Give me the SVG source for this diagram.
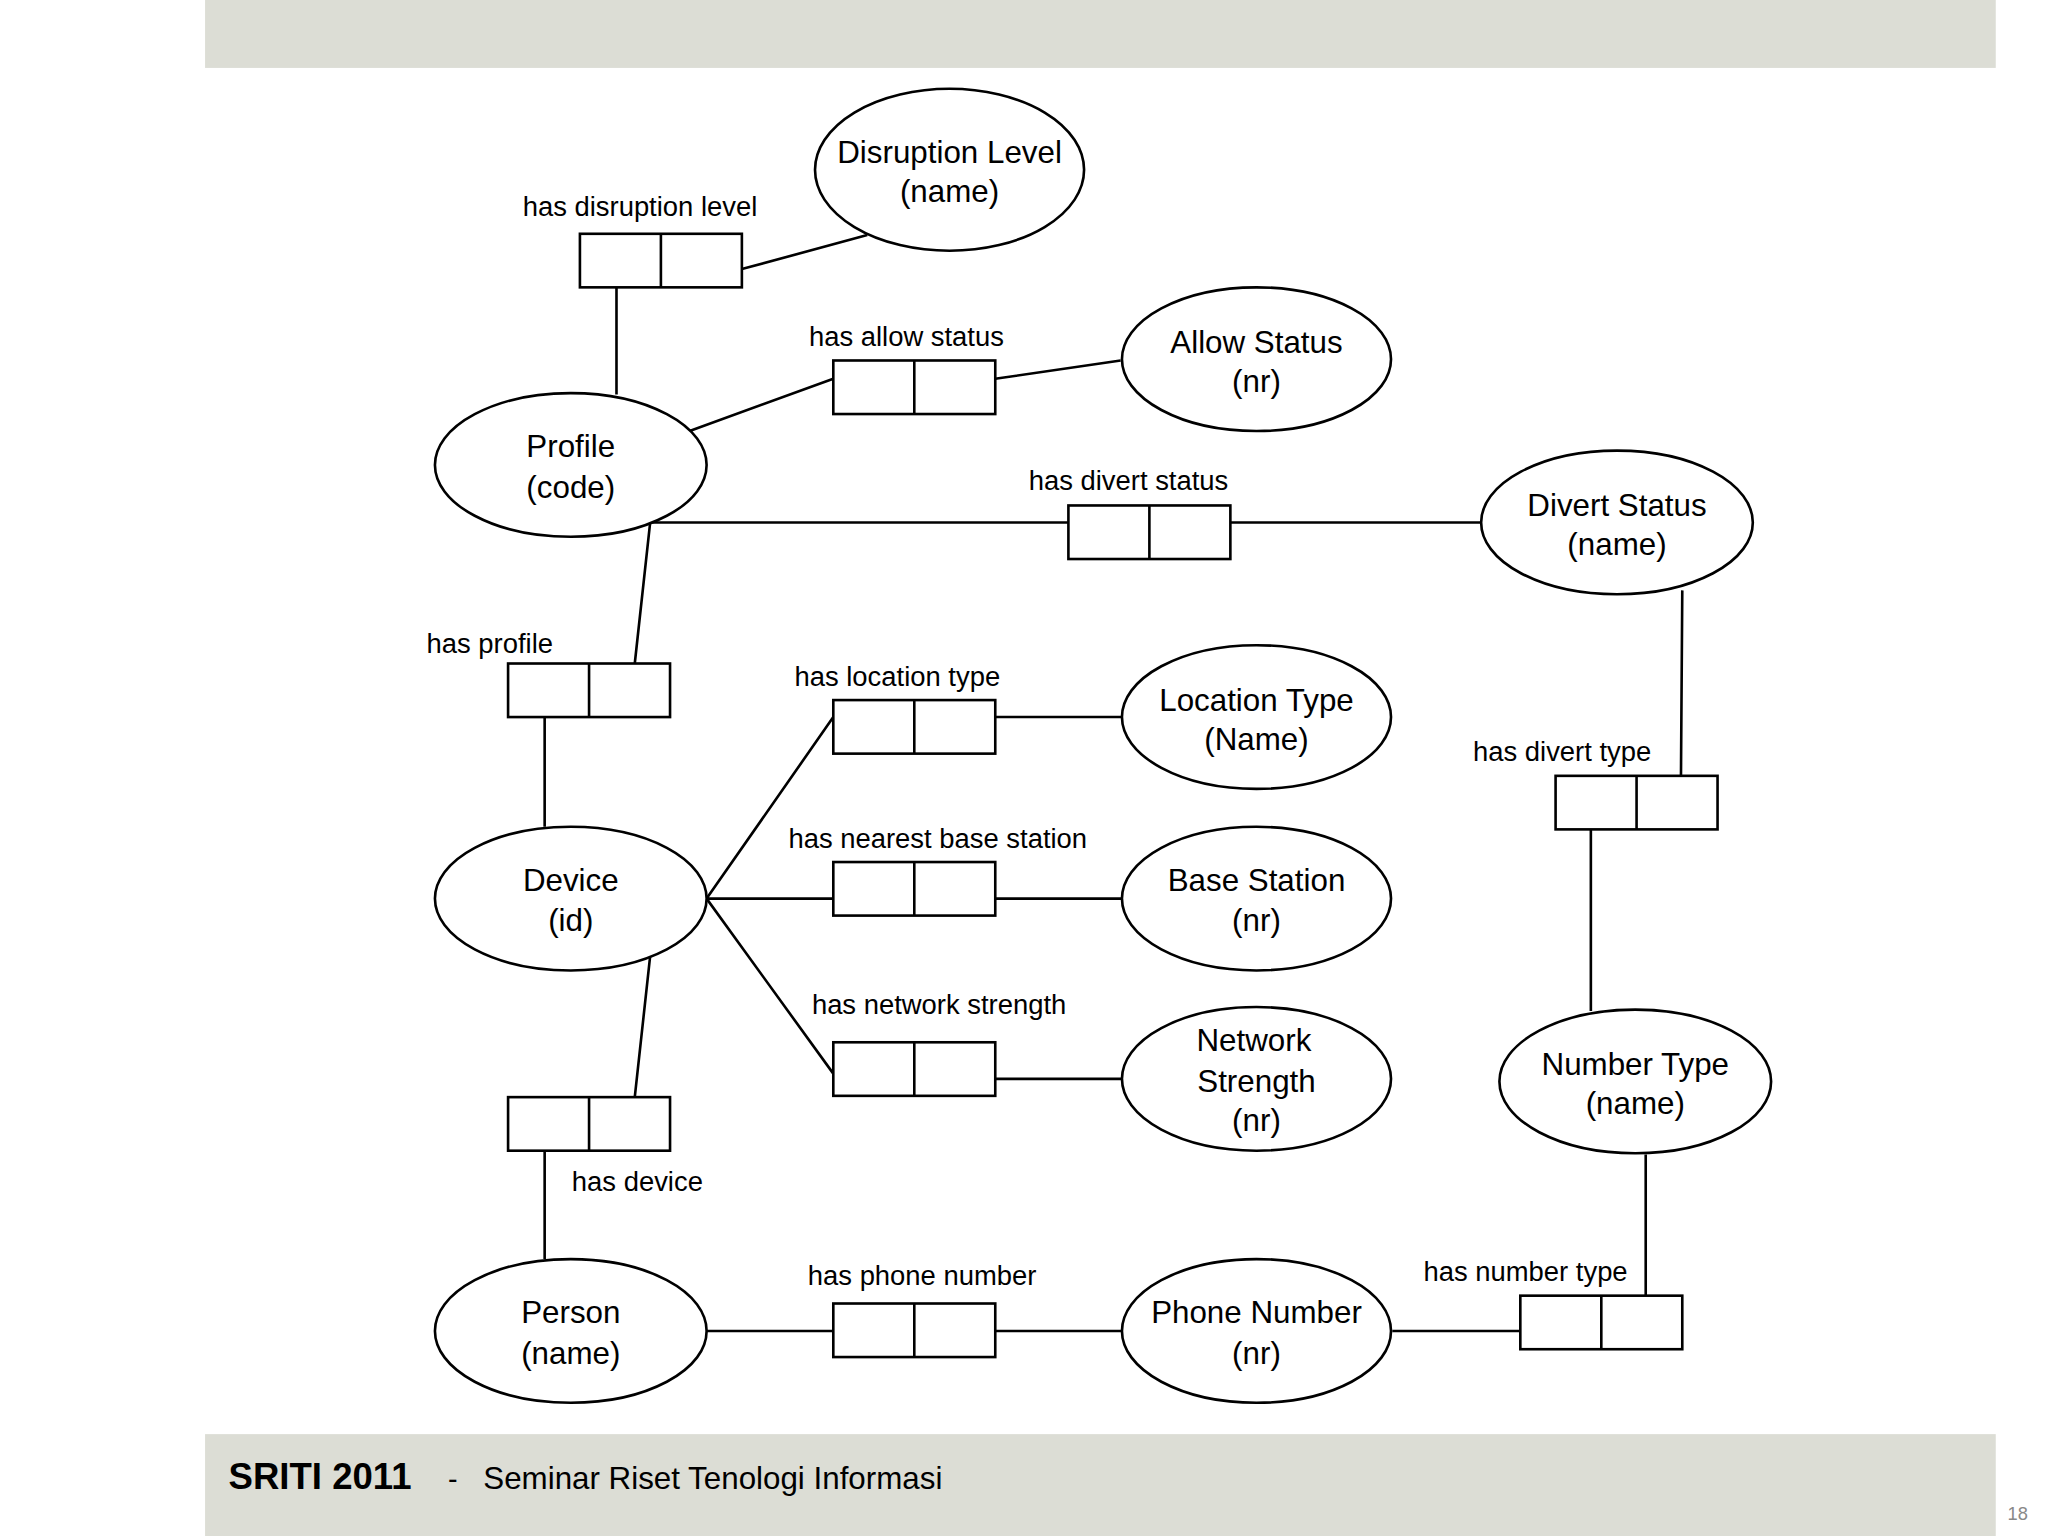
<svg xmlns="http://www.w3.org/2000/svg" width="2048" height="1536" viewBox="0 0 2048 1536">
<style>
.e{fill:#fff;stroke:#000;stroke-width:2}
.b{fill:#fff;stroke:#000;stroke-width:2}
.l{stroke:#000;stroke-width:2;fill:none}
text{font-family:"Liberation Sans",Arial,sans-serif;fill:#000}
.n{font-size:24px;text-anchor:middle}
.r{font-size:21px;text-anchor:middle}
</style>
<rect width="2048" height="1536" fill="#fff"/>
<g transform="scale(1.30612)">
<rect x="157" y="0" width="1371" height="52" fill="#dcddd5"/>
<rect x="157" y="1098" width="1371" height="78" fill="#dcddd5"/>
<text x="175" y="1140" font-size="28" font-weight="bold">SRITI 2011</text>
<text x="343" y="1140" font-size="22">-</text>
<text x="370" y="1140" font-size="24">Seminar Riset Tenologi Informasi</text>
<text x="1537" y="1164" font-size="14" fill="#888" style="fill:#888">18</text>
<g id="connectors">
<path class="l" d="M568 206L664 180M472 220V302M528 330L638 290M762 290L858 276M498 400H818M942 400H1135M498 398L486 508M417 549V633M541 688L638 549M541 688H638M541 688L638 822M762 549H859M762 688H859M762 826H859M498 730L486 840M417 881V964M541 1019H638M762 1019H859M1066 1019H1164M1288 452L1287 594M1218 635V774M1260 884V992"/>
</g>
<g id="disruption"><ellipse class="e" cx="727" cy="130" rx="103" ry="62"/><text class="n" x="727" y="125">Disruption Level</text><text class="n" x="727" y="155">(name)</text></g>
<g id="allow"><ellipse class="e" cx="962" cy="275" rx="103" ry="55"/><text class="n" x="962" y="270">Allow Status</text><text class="n" x="962" y="300">(nr)</text></g>
<g id="profile"><ellipse class="e" cx="437" cy="356" rx="104" ry="55"/><text class="n" x="437" y="350">Profile</text><text class="n" x="437" y="381">(code)</text></g>
<g id="divert"><ellipse class="e" cx="1238" cy="400" rx="104" ry="55"/><text class="n" x="1238" y="395">Divert Status</text><text class="n" x="1238" y="425">(name)</text></g>
<g id="location"><ellipse class="e" cx="962" cy="549" rx="103" ry="55"/><text class="n" x="962" y="544">Location Type</text><text class="n" x="962" y="574">(Name)</text></g>
<g id="device"><ellipse class="e" cx="437" cy="688" rx="104" ry="55"/><text class="n" x="437" y="682">Device</text><text class="n" x="437" y="713">(id)</text></g>
<g id="base"><ellipse class="e" cx="962" cy="688" rx="103" ry="55"/><text class="n" x="962" y="682">Base Station</text><text class="n" x="962" y="713">(nr)</text></g>
<g id="network"><ellipse class="e" cx="962" cy="826" rx="103" ry="55"/><text class="n" x="960" y="805">Network</text><text class="n" x="962" y="836">Strength</text><text class="n" x="962" y="866">(nr)</text></g>
<g id="numtype"><ellipse class="e" cx="1252" cy="828" rx="104" ry="55"/><text class="n" x="1252" y="823">Number Type</text><text class="n" x="1252" y="853">(name)</text></g>
<g id="person"><ellipse class="e" cx="437" cy="1019" rx="104" ry="55"/><text class="n" x="437" y="1013">Person</text><text class="n" x="437" y="1044">(name)</text></g>
<g id="phone"><ellipse class="e" cx="962" cy="1019" rx="103" ry="55"/><text class="n" x="962" y="1013">Phone Number</text><text class="n" x="962" y="1044">(nr)</text></g>
<g id="r1"><rect class="b" x="444" y="179" width="124" height="41"/><path class="l" d="M506 179V220"/><text class="r" x="490" y="165">has disruption level</text></g>
<g id="r2"><rect class="b" x="638" y="276" width="124" height="41"/><path class="l" d="M700 276V317"/><text class="r" x="694" y="265">has allow status</text></g>
<g id="r3"><rect class="b" x="818" y="387" width="124" height="41"/><path class="l" d="M880 387V428"/><text class="r" x="864" y="375">has divert status</text></g>
<g id="r4"><rect class="b" x="389" y="508" width="124" height="41"/><path class="l" d="M451 508V549"/><text class="r" x="375" y="500">has profile</text></g>
<g id="r5"><rect class="b" x="638" y="536" width="124" height="41"/><path class="l" d="M700 536V577"/><text class="r" x="687" y="525">has location type</text></g>
<g id="r6"><rect class="b" x="638" y="660" width="124" height="41"/><path class="l" d="M700 660V701"/><text class="r" x="718" y="649">has nearest base station</text></g>
<g id="r7"><rect class="b" x="638" y="798" width="124" height="41"/><path class="l" d="M700 798V839"/><text class="r" x="719" y="776">has network strength</text></g>
<g id="r8"><rect class="b" x="389" y="840" width="124" height="41"/><path class="l" d="M451 840V881"/><text class="r" x="488" y="912">has device</text></g>
<g id="r9"><rect class="b" x="638" y="998" width="124" height="41"/><path class="l" d="M700 998V1039"/><text class="r" x="706" y="984">has phone number</text></g>
<g id="r10"><rect class="b" x="1191" y="594" width="124" height="41"/><path class="l" d="M1253 594V635"/><text class="r" x="1196" y="583">has divert type</text></g>
<g id="r11"><rect class="b" x="1164" y="992" width="124" height="41"/><path class="l" d="M1226 992V1033"/><text class="r" x="1168" y="981">has number type</text></g>
</g>
</svg>
